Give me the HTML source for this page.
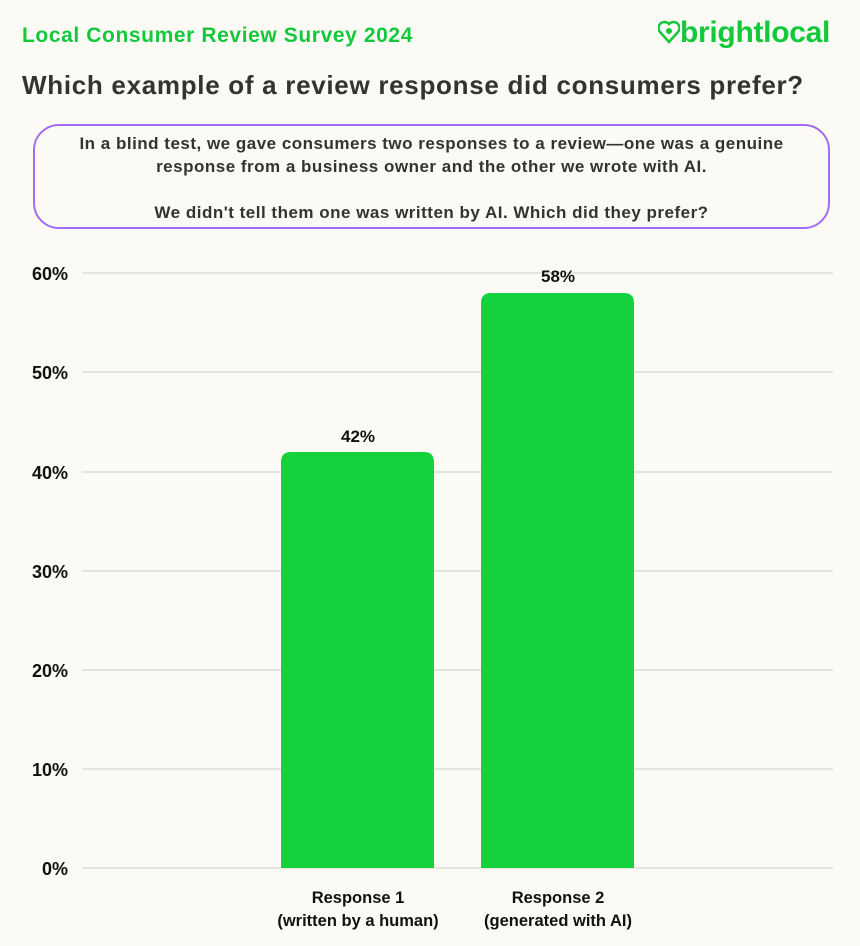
<!DOCTYPE html>
<html><head><style>
body{margin:0;width:860px;height:946px;background:#fbfaf5;font-family:"Liberation Sans",sans-serif;position:relative;overflow:hidden;color:#1a1a1a}
.a{position:absolute}
</style></head><body>
<div class="a" style="left:22px;top:24px;font-size:21px;font-weight:bold;color:#14c83c;letter-spacing:0.6px">Local Consumer Review Survey 2024</div>
<div class="a" style="left:658px;top:16px;font-size:30px;font-weight:bold;color:#14c83c;letter-spacing:-0.3px">
<svg width="22" height="24" viewBox="0 0 22 24" style="vertical-align:-2px"><path d="M11 22 L2 12 A5.5 5.5 0 0 1 11 4 A5.5 5.5 0 0 1 20 12 Z" fill="none" stroke="#14c83c" stroke-width="2.5"/><circle cx="11" cy="11" r="3" fill="#14c83c"/></svg>brightlocal</div>
<div class="a" style="left:22px;top:70px;font-size:26px;font-weight:bold;color:#333;letter-spacing:0.7px">Which example of a review response did consumers prefer?</div>
<div class="a" style="left:33px;top:124px;width:797px;height:105px;border:2.5px solid #a46cf0;border-radius:26px;text-align:center;font-size:17px;font-weight:bold;color:#333;line-height:23px;padding-top:6px;box-sizing:border-box;letter-spacing:0.5px">In a blind test, we gave consumers two responses to a review—one was a genuine<br>response from a business owner and the other we wrote with AI.<br><br>We didn't tell them one was written by AI. Which did they prefer?</div>
<svg class="a" style="left:0;top:0" width="860" height="946">
<g stroke="#e6e4df" stroke-width="2">
<line x1="82" x2="833" y1="273" y2="273"/><line x1="82" x2="833" y1="372" y2="372"/><line x1="82" x2="833" y1="472" y2="472"/><line x1="82" x2="833" y1="571" y2="571"/><line x1="82" x2="833" y1="670" y2="670"/><line x1="82" x2="833" y1="769" y2="769"/><line x1="82" x2="833" y1="868" y2="868"/></g>
<g font-family="Liberation Sans" font-weight="bold" font-size="18" fill="#111" text-anchor="end">
<text x="68" y="280">60%</text><text x="68" y="379">50%</text><text x="68" y="479">40%</text><text x="68" y="578">30%</text><text x="68" y="677">20%</text><text x="68" y="776">10%</text><text x="68" y="875">0%</text></g>
<path d="M281 868 V462 Q281 452 291 452 H424 Q434 452 434 462 V868 Z" fill="#14d23e"/>
<path d="M481 868 V303 Q481 293 491 293 H624 Q634 293 634 303 V868 Z" fill="#14d23e"/>
<g font-family="Liberation Sans" font-weight="bold" font-size="17" fill="#111" text-anchor="middle">
<text x="358" y="442">42%</text><text x="558" y="282">58%</text>
<text x="358" y="903" font-size="16.5">Response 1</text><text x="358" y="926" font-size="16.5">(written by a human)</text>
<text x="558" y="903" font-size="16.5">Response 2</text><text x="558" y="926" font-size="16.5">(generated with AI)</text></g>
</svg>
</body></html>
